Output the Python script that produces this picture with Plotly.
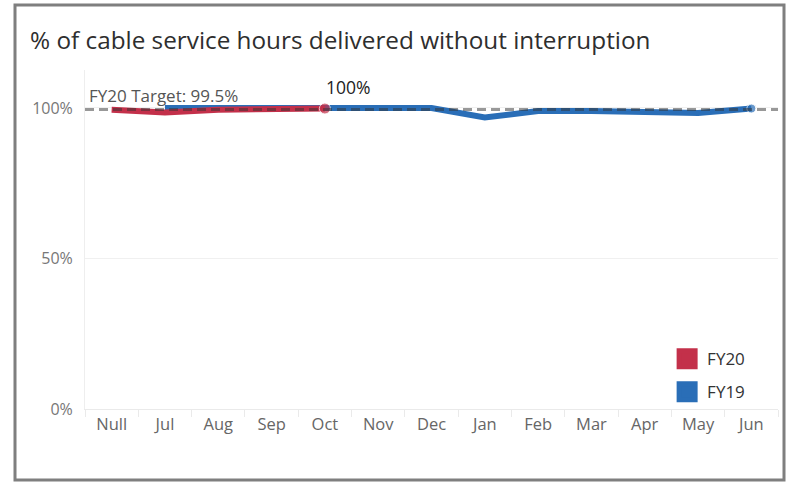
import plotly.graph_objects as go

months = ["Null", "Jul", "Aug", "Sep", "Oct", "Nov", "Dec", "Jan", "Feb", "Mar", "Apr", "May", "Jun"]
fy20_months = ["Null", "Jul", "Aug", "Sep", "Oct"]
fy20_values = [99.4, 98.5, 99.4, 99.6, 99.8]
fy19_months = ["Jul", "Aug", "Sep", "Oct", "Nov", "Dec", "Jan", "Feb", "Mar", "Apr", "May", "Jun"]
fy19_values = [100.0, 100.0, 100.0, 100.0, 100.0, 100.0, 96.8, 99.0, 99.0, 98.9, 98.3, 99.8]
target = 99.5
y_ticks = [0, 50, 100]
y_tick_labels = ["0%", "50%", "100%"]

RED = "#C3304A"
BLUE = "#2A6EB7"
FONT = "Open Sans"

W, H = 788, 485
L, R, T, B = 85, 10, 70, 76
PW, PH = W - L - R, H - T - B

fig = go.Figure()

fig.add_trace(go.Scatter(
    x=fy19_months, y=fy19_values, mode="lines+markers",
    line=dict(color=BLUE, width=6),
    marker=dict(size=[0] * (len(fy19_values) - 1) + [9], color=BLUE),
    showlegend=False, hoverinfo="skip"))
fig.add_trace(go.Scatter(
    x=fy20_months, y=fy20_values, mode="lines+markers",
    line=dict(color=RED, width=6),
    marker=dict(size=[0] * (len(fy20_values) - 1) + [11], color=RED),
    showlegend=False, hoverinfo="skip"))

# legend entries
fig.add_trace(go.Scatter(x=[None], y=[None], mode="markers", name="FY20", legendgroup="a",
                         marker=dict(symbol="square", size=16, color=RED,
                                     line=dict(color=RED, width=5))))
fig.add_trace(go.Scatter(x=[None], y=[None], mode="markers", name="FY19", legendgroup="b",
                         marker=dict(symbol="square", size=16, color=BLUE,
                                     line=dict(color=BLUE, width=5))))

# target line
fig.add_shape(type="line", xref="paper", x0=0, x1=1, yref="y", y0=target, y1=target,
              line=dict(color="rgba(50,50,50,0.5)", width=3, dash="9px,5px"), layer="above")

fig.add_annotation(xref="paper", x=0.003, y=target, yref="y", text="FY20 Target: 99.5%",
                   showarrow=False, xanchor="left", yanchor="bottom", yshift=0,
                   font=dict(family=FONT, size=17, color="#555555"))
fig.add_annotation(x=fy20_months[-1], y=fy20_values[-1], text="100%",
                   showarrow=False, xanchor="left", yanchor="bottom", yshift=8, xshift=-1,
                   font=dict(family=FONT, size=17.5, color="#222222"))

# outer frame
fig.add_shape(type="rect", xref="paper", yref="paper",
              x0=(15 - L) / PW, x1=(784 - L) / PW,
              y0=(H - B - 480) / PH, y1=(H - B - 5) / PH,
              line=dict(color="#7F7F7F", width=3), fillcolor="rgba(0,0,0,0)", layer="above")

fig.update_layout(
    width=W, height=H,
    margin=dict(l=L, r=R, t=T, b=B),
    paper_bgcolor="white", plot_bgcolor="white",
    title=dict(text="% of cable service hours delivered without interruption",
               x=30 / W, xanchor="left", y=1 - 40 / H, yanchor="middle",
               font=dict(family=FONT, size=24.3, color="#2E2E2E")),
    showlegend=True,
    legend=dict(x=0.84, xanchor="left", y=0.2, yanchor="top", traceorder="grouped",
                font=dict(family=FONT, size=17, color="#333333"),
                bgcolor="rgba(0,0,0,0)", tracegroupgap=8, itemsizing="trace"),
    xaxis=dict(type="category", categoryorder="array", categoryarray=months,
               range=[-0.5, len(months) - 0.5], showgrid=False,
               showline=True, linecolor="#EAEAEA", linewidth=1,
               ticks="outside", tickson="boundaries", ticklen=7, tickcolor="#EAEAEA",
               tickfont=dict(family=FONT, size=16.5, color="#666666"), zeroline=False),
    yaxis=dict(range=[0, 112.6], tickvals=y_ticks, ticktext=y_tick_labels,
               showgrid=True, gridcolor="#F0F0F0", gridwidth=1, zeroline=False,
               showline=True, linecolor="#EEEEEE", linewidth=1, ticklabelstandoff=8,
               tickfont=dict(family=FONT, size=16, color="#777777"), ticks=""),
)

fig.write_html("out.html", config={"displayModeBar": False},
               post_script="document.body.style.margin='0px';document.body.style.overflow='hidden';")
